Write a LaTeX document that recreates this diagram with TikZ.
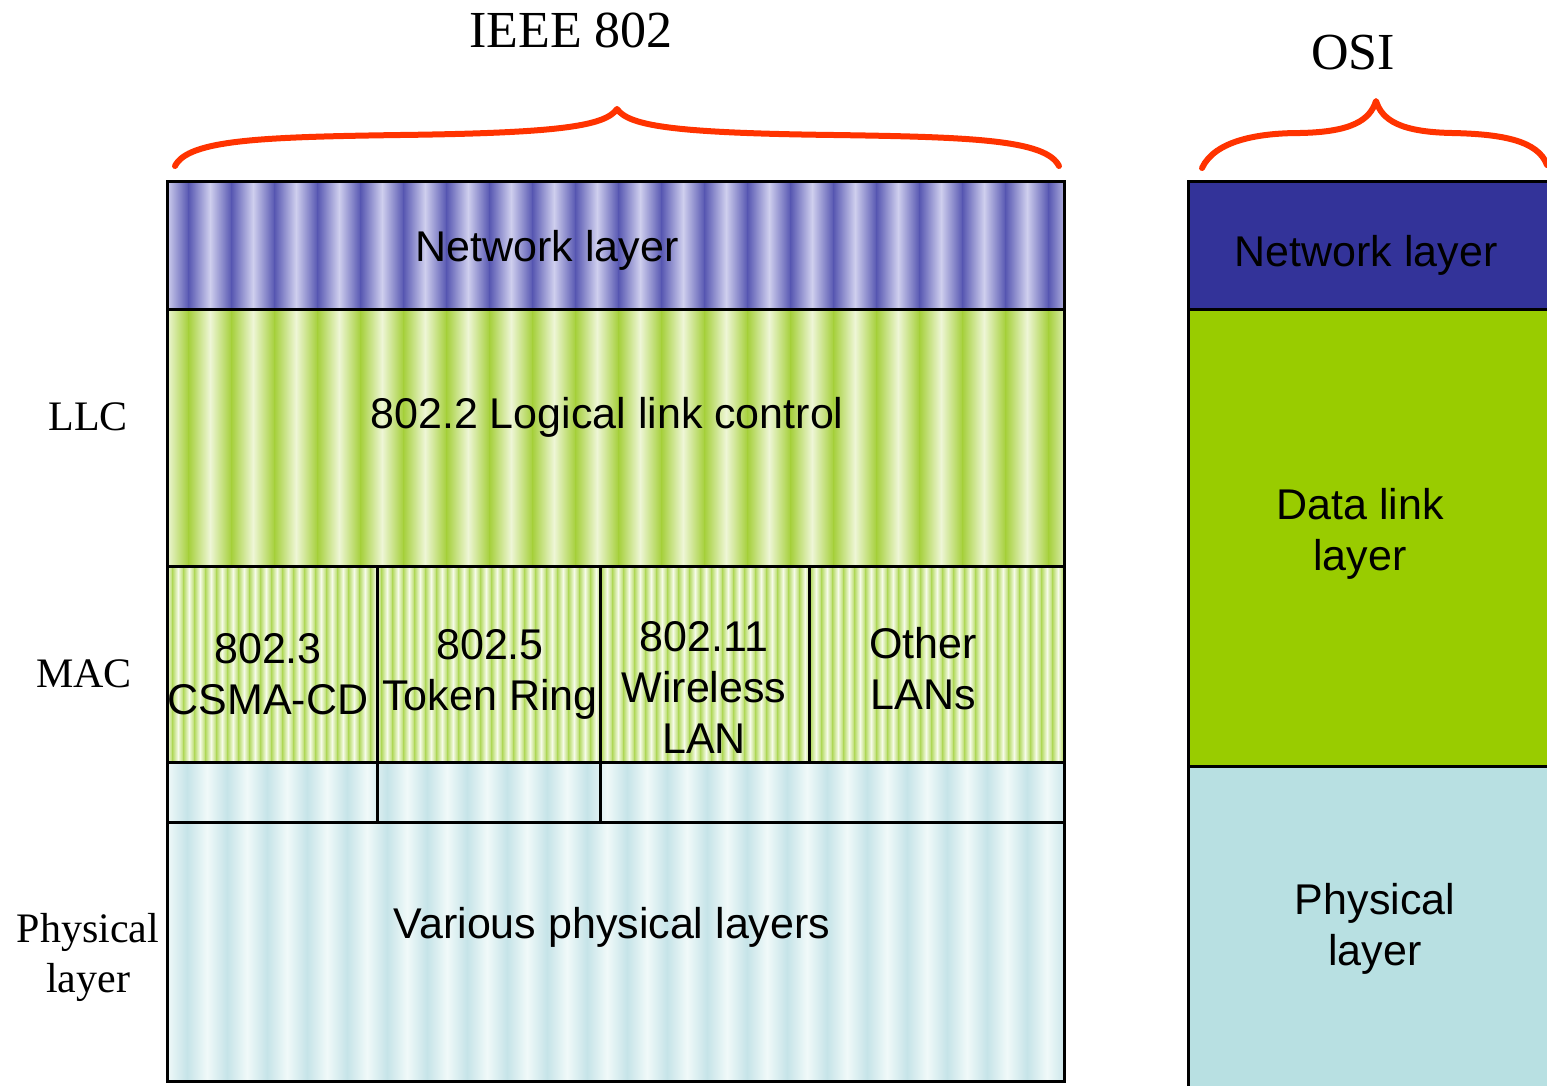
\documentclass[tikz,border=0pt]{standalone}
\usepackage{fontspec}
\setmainfont{Liberation Serif}
\newfontfamily\arialf{Liberation Sans}
\definecolor{osiblue}{HTML}{333399}
\definecolor{osigreen}{HTML}{99CC00}
\definecolor{osicyan}{HTML}{B8E0E2}
\definecolor{braceorange}{HTML}{FF3300}
\definecolor{bdark}{HTML}{5858B2}
\definecolor{blight}{HTML}{CFCFEE}
\definecolor{gdark}{HTML}{A6D03C}
\definecolor{glight}{HTML}{EEF6D6}
\definecolor{mdark}{HTML}{B4DA62}
\definecolor{mlight}{HTML}{F6FBE8}
\definecolor{cdark}{HTML}{C6E4E8}
\definecolor{clight}{HTML}{F0F9F9}
\newcommand\stripebox[7]{%
  \begin{scope}
  \clip (#1,#2) rectangle (#3,#4);
  \fill[#7] (#1,#2) rectangle (#3,#4);
  \pgfmathsetmacro\nst{int((#3-#1)/#5)+1}
  \foreach \i in {0,...,\nst}{
    \pgfmathsetmacro\xa{#1+\i*#5}
    \shade[left color=#7,right color=#6] (\xa,#2) rectangle (\xa+#5/2,#4);
    \shade[left color=#6,right color=#7] (\xa+#5/2,#2) rectangle (\xa+#5,#4);
  }
  \end{scope}}
\begin{document}
\begin{tikzpicture}[x=1pt,y=-1pt,
  lbl/.style={font=\arialf\fontsize{43}{51}\selectfont, align=center, inner sep=0},
  side/.style={font=\fontsize{42}{50}\selectfont, align=center, inner sep=0},
  ttl/.style={font=\fontsize{52}{60}\selectfont, inner sep=0},
  box/.style={draw=black, line width=3pt, inner sep=0, outer sep=0, anchor=north west},
  osibox/.style={inner sep=0, outer sep=0, anchor=north west, minimum width=362pt},
  brace/.style={draw=braceorange, line width=6pt, line cap=round, line join=round}]
\useasboundingbox (0,0) rectangle (1547,1085);
% striped fills
\stripebox{167}{181}{1064}{309}{43}{bdark}{blight}
\stripebox{167}{309}{1064}{566}{43}{gdark}{glight}
\stripebox{167}{566}{1064}{762}{11}{mdark}{mlight}
\stripebox{167}{762}{1064}{1081}{40}{cdark}{clight}
% left boxes
\node[box, minimum width=897pt, minimum height=128pt] (netL) at (167,181) {};
\node[box, minimum width=897pt, minimum height=257pt] (llc) at (167,309) {};
\node[box, minimum width=210pt, minimum height=196pt] (mac1) at (167,566) {};
\node[box, minimum width=223pt, minimum height=196pt] (mac2) at (377,566) {};
\node[box, minimum width=209pt, minimum height=196pt] (mac3) at (600,566) {};
\node[box, minimum width=255pt, minimum height=196pt] (mac4) at (809,566) {};
\node[box, minimum width=210pt, minimum height=60pt] (ph1) at (167,762) {};
\node[box, minimum width=223pt, minimum height=60pt] (ph2) at (377,762) {};
\node[box, minimum width=464pt, minimum height=60pt] (ph3) at (600,762) {};
\node[box, minimum width=897pt, minimum height=259pt] (phys) at (167,822) {};
% right boxes
\node[osibox, fill=osiblue, minimum height=128pt] (onet) at (1188,181) {};
\node[osibox, fill=osigreen, minimum height=457pt] (odl) at (1188,309) {};
\node[osibox, fill=osicyan, minimum height=322pt] (ophy) at (1188,766) {};
\draw[line width=3pt] (onet.north east) -- (onet.north west) -- (ophy.south west);
\draw[line width=3pt] (odl.north west) -- (odl.north east);
\draw[line width=3pt] (ophy.north west) -- (ophy.north east);
% labels in boxes
\node[lbl] (t1) at (547,250) {Network layer};
\node[lbl] (t2) at (607,417) {802.2 Logical link control};
\node[lbl] (t3) at (268,674) {802.3\\CSMA-CD};
\node[lbl] (t4) at (490,674) {802.5\\Token Ring};
\node[lbl] (t5) at (704,687) {802.11\\Wireless\\LAN};
\node[lbl] (t6) at (923,669) {Other\\LANs};
\node[lbl] (t7) at (612,927) {Various physical layers};
\node[lbl, text=black] (t8) at (1366,255) {Network layer};
\node[lbl] (t9) at (1360,534) {Data link\\layer};
\node[lbl] (t10) at (1375,929) {Physical\\layer};
% side labels
\node[side] (llcl) at (88,417) {LLC};
\node[side] (macl) at (84,674) {MAC};
\node[side] (physl) at (88,957) {Physical\\layer};
\node[ttl] (ieee) at (571,30) {IEEE 802};
\node[ttl] (osi) at (1353,53) {OSI};
% braces
\draw[brace] (175,166) .. controls (188,140) and (260,137) .. (400,135)
  .. controls (560,133) and (605,126) .. (617,109)
  .. controls (629,126) and (674,133) .. (834,135)
  .. controls (974,137) and (1046,140) .. (1059,166);
\draw[brace] (1202,168) .. controls (1215,140) and (1260,133) .. (1300,133)
  .. controls (1352,132) and (1370,120) .. (1376,101)
  .. controls (1382,120) and (1400,132) .. (1452,133)
  .. controls (1500,134) and (1538,140) .. (1547,165);
\end{tikzpicture}
\end{document}
